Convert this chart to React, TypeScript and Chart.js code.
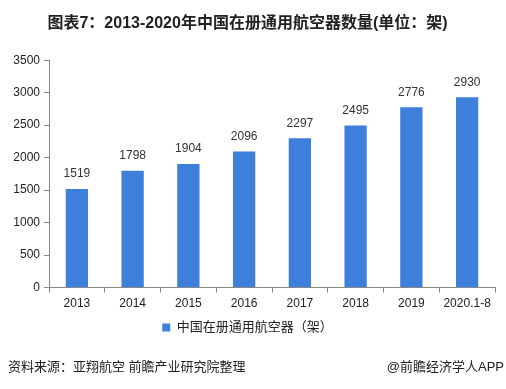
import React, { useEffect, useRef } from "react";
import { Chart, registerables } from "chart.js";

Chart.register(...registerables);

const categories = ["2013", "2014", "2015", "2016", "2017", "2018", "2019", "2020.1-8"];
const values = [1519, 1798, 1904, 2096, 2297, 2495, 2776, 2930];
const yTicks = [0, 500, 1000, 1500, 2000, 2500, 3000, 3500];
const seriesName = "中国在册通用航空器（架）";
const titleText = "图表7：2013-2020年中国在册通用航空器数量(单位：架)";
const sourceText = "资料来源：亚翔航空 前瞻产业研究院整理";
const brandText = "@前瞻经济学人APP";

const FONT = "'Liberation Sans', Arial, 'Noto Sans CJK SC', sans-serif";

const labelPlugin = {
  id: "barLabels",
  afterDatasetsDraw(chart: any) {
    const { ctx } = chart;
    const meta = chart.getDatasetMeta(0);
    ctx.save();
    ctx.font = `12px ${FONT}`;
    ctx.fillStyle = "#333";
    ctx.textAlign = "center";
    ctx.textBaseline = "bottom";
    meta.data.forEach((bar: any, i: number) => {
      ctx.fillText(String(values[i]), bar.x, bar.y - 9);
    });
    ctx.restore();
  },
};

const footerPlugin = {
  id: "footerText",
  afterDraw(chart: any) {
    const { ctx, width } = chart;
    ctx.save();
    ctx.font = `13px ${FONT}`;
    ctx.fillStyle = "#222";
    ctx.textBaseline = "middle";
    ctx.textAlign = "left";
    ctx.fillText(sourceText, 8, 367);
    ctx.textAlign = "right";
    ctx.fillText(brandText, width - 2, 367);
    ctx.restore();
  },
};

export default function App() {
  const ref = useRef<HTMLCanvasElement>(null);
  useEffect(() => {
    if (!ref.current) return;
    const chart = new Chart(ref.current, {
      type: "bar",
      data: {
        labels: categories,
        datasets: [
          {
            label: seriesName,
            data: values,
            backgroundColor: "#3D7FDB",
            categoryPercentage: 1,
            barPercentage: 0.4,
          },
        ],
      },
      options: {
        animation: false,
        responsive: false,
        layout: { padding: { left: 0, right: 11, top: 0, bottom: 45 } },
        plugins: {
          title: {
            display: true,
            text: titleText,
            color: "#222",
            font: { family: FONT, size: 16, weight: "bold" },
            padding: { top: 14, bottom: 27 },
          },
          legend: {
            position: "bottom",
            labels: {
              boxWidth: 8,
              boxHeight: 8,
              color: "#222",
              font: { family: FONT, size: 13 },
              padding: 6,
            },
          },
          tooltip: { enabled: false },
        },
        scales: {
          x: {
            grid: { display: true, drawOnChartArea: false, drawTicks: true, tickLength: 5, color: "#888" },
            border: { color: "#888" },
            ticks: { color: "#222", font: { family: FONT, size: 12 }, padding: 4, maxRotation: 0 },
          },
          y: {
            min: 0,
            max: 3500,
            afterBuildTicks(scale: any) {
              scale.ticks = yTicks.map((v) => ({ value: v }));
            },
            afterFit(scale: any) {
              scale.width = 49;
            },
            grid: { display: true, drawOnChartArea: false, drawTicks: true, tickLength: 5, color: "#888" },
            border: { color: "#888" },
            ticks: {
              color: "#222",
              font: { family: FONT, size: 12 },
              padding: 4,
              callback: (v: any) => String(v),
            },
          },
        },
      },
      plugins: [labelPlugin, footerPlugin],
    });
    return () => chart.destroy();
  }, []);
  return (
    <div style={{ position: "fixed", left: 0, top: 0, width: 506, height: 389, background: "#fff" }}>
      <canvas ref={ref} width={506} height={389} />
    </div>
  );
}
